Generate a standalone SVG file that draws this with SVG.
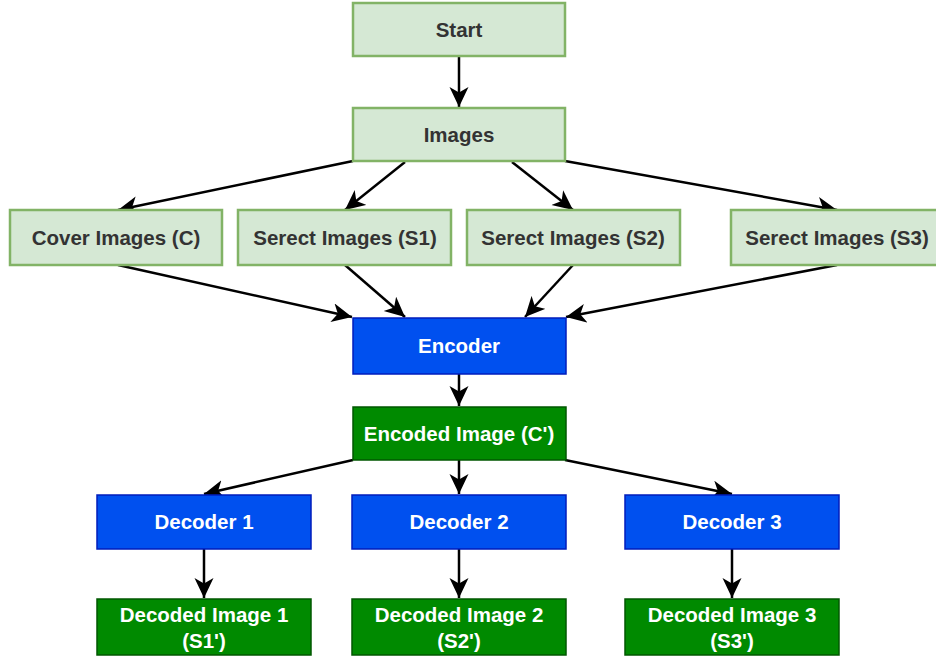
<svg xmlns="http://www.w3.org/2000/svg" width="936" height="657" viewBox="0 0 936 657">
<defs>
<style>
.lg{fill:#d5e8d4;stroke:#82b366;stroke-width:2.5}
.bl{fill:#0050ef;stroke:#001dbc;stroke-width:1.5}
.dg{fill:#008a00;stroke:#005700;stroke-width:1.5}
text{font-family:"Liberation Sans",Arial,sans-serif;font-weight:bold;font-size:20.5px;text-anchor:middle;dominant-baseline:central}
.dk{fill:#333333}
.wt{fill:#ffffff}
.c{stroke:#000;stroke-width:2.5;fill:none;marker-end:url(#ah)}
</style>
<marker id="ah" markerUnits="userSpaceOnUse" markerWidth="22" markerHeight="20" refX="20" refY="9.5" orient="auto" viewBox="0 0 22 20">
<path d="M0,0 L20,9.5 L0,19 L5.5,9.5 Z" fill="#000"/>
</marker>
</defs>
<rect width="936" height="657" fill="#fff"/>
<g id="connectors">
<path class="c" d="M459,56 L459,107"/>
<path class="c" d="M353,161 L118,210"/>
<path class="c" d="M405,162 L345,210"/>
<path class="c" d="M512,162 L573,210"/>
<path class="c" d="M565,161 L837,210"/>
<path class="c" d="M118,265 L352,317"/>
<path class="c" d="M345,265 L405,317"/>
<path class="c" d="M573,265 L525,317"/>
<path class="c" d="M837,265 L566,317"/>
<path class="c" d="M459,374 L459,406"/>
<path class="c" d="M353,460 L204,494"/>
<path class="c" d="M459,460 L459,494"/>
<path class="c" d="M565,460 L732,494"/>
<path class="c" d="M204,549 L204,598"/>
<path class="c" d="M459,549 L459,598"/>
<path class="c" d="M732,549 L732,598"/>
</g>
<g id="start"><rect class="lg" x="353" y="3" width="212" height="53"/><text class="dk" x="459" y="29">Start</text></g>
<g id="images"><rect class="lg" x="353" y="108" width="212" height="53"/><text class="dk" x="459" y="134">Images</text></g>
<g id="cover"><rect class="lg" x="10" y="210" width="212" height="55"/><text class="dk" x="116" y="237">Cover Images (C)</text></g>
<g id="s1"><rect class="lg" x="238" y="210" width="213" height="55"/><text class="dk" x="345" y="237">Serect Images (S1)</text></g>
<g id="s2"><rect class="lg" x="467" y="210" width="213" height="55"/><text class="dk" x="573" y="237">Serect Images (S2)</text></g>
<g id="s3"><rect class="lg" x="731" y="210" width="213" height="55"/><text class="dk" x="837" y="237">Serect Images (S3)</text></g>
<g id="encoder"><rect class="bl" x="353" y="318" width="213" height="56"/><text class="wt" x="459" y="345">Encoder</text></g>
<g id="encoded"><rect class="dg" x="353" y="407" width="213" height="53"/><text class="wt" x="459" y="433">Encoded Image (C')</text></g>
<g id="dec1"><rect class="bl" x="97" y="495" width="214" height="54"/><text class="wt" x="204" y="521">Decoder 1</text></g>
<g id="dec2"><rect class="bl" x="352" y="495" width="214" height="54"/><text class="wt" x="459" y="521">Decoder 2</text></g>
<g id="dec3"><rect class="bl" x="625" y="495" width="214" height="54"/><text class="wt" x="732" y="521">Decoder 3</text></g>
<g id="out1"><rect class="dg" x="97" y="599" width="214" height="56"/><text class="wt" x="204" y="614">Decoded Image 1</text><text class="wt" x="204" y="640">(S1')</text></g>
<g id="out2"><rect class="dg" x="352" y="599" width="214" height="56"/><text class="wt" x="459" y="614">Decoded Image 2</text><text class="wt" x="459" y="640">(S2')</text></g>
<g id="out3"><rect class="dg" x="625" y="599" width="214" height="56"/><text class="wt" x="732" y="614">Decoded Image 3</text><text class="wt" x="732" y="640">(S3')</text></g>
</svg>
